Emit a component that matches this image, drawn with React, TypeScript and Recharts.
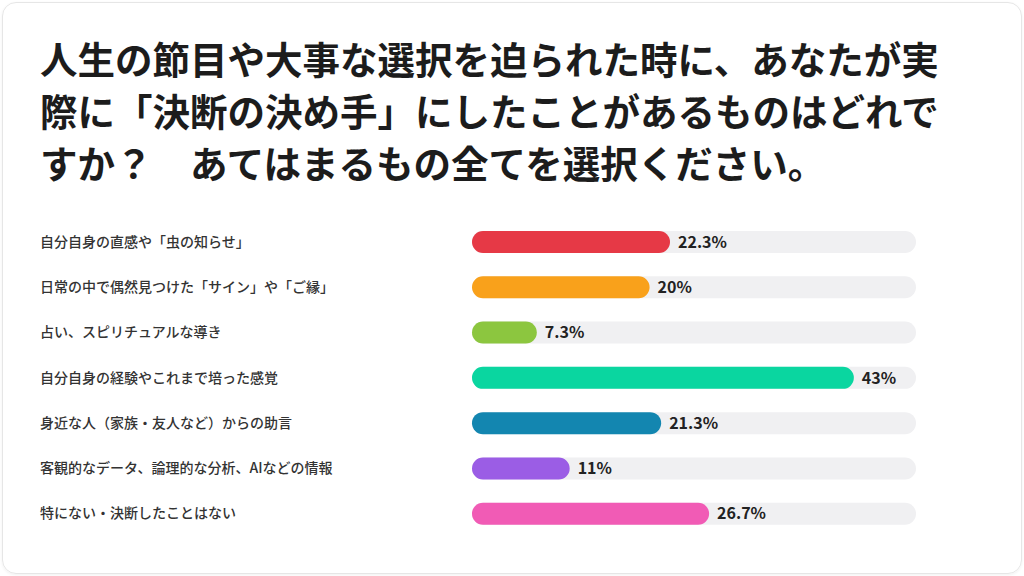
import React from 'react';
import { BarChart, Bar, XAxis, YAxis, Cell, LabelList } from 'recharts';

const titleLines = [
  '人生の節目や大事な選択を迫られた時に、あなたが実',
  '際に「決断の決め手」にしたことがあるものはどれで',
  'すか？　あてはまるもの全てを選択ください。',
];

const categories = [
  '自分自身の直感や「虫の知らせ」',
  '日常の中で偶然見つけた「サイン」や「ご縁」',
  '占い、スピリチュアルな導き',
  '自分自身の経験やこれまで培った感覚',
  '身近な人（家族・友人など）からの助言',
  '客観的なデータ、論理的な分析、AIなどの情報',
  '特にない・決断したことはない',
];

const values = [22.3, 20, 7.3, 43, 21.3, 11, 26.7];

const colors = ['#e63946', '#f9a11b', '#8cc63f', '#0ad6a0', '#1386b0', '#9b5de5', '#f15bb5'];

const data = categories.map((name, i) => ({ name, value: values[i] }));

const FONT = '"Noto Sans CJK JP", "Noto Sans", sans-serif';

const CategoryTick = ({ y, payload }: any) => (
  <text x={40} y={y} dy={5} textAnchor="start" fontSize={14} fontWeight={500} fill="#333" fontFamily={FONT}>
    {payload.value}
  </text>
);

export default function App() {
  return (
    <div
      style={{
        position: 'fixed',
        left: 0,
        top: 0,
        width: 1024,
        height: 576,
        background: '#fff',
        fontFamily: FONT,
      }}
    >
      <div
        style={{
          position: 'absolute',
          left: 2,
          top: 2,
          width: 1018,
          height: 570,
          border: '1px solid #e6e6e6',
          borderRadius: 14,
          boxShadow: '0 1px 3px rgba(0,0,0,0.06)',
        }}
      />
      <div
        style={{
          position: 'absolute',
          left: 40,
          top: 32,
          fontSize: 37.5,
          lineHeight: '52px',
          fontWeight: 700,
          color: '#1c1c1c',
          whiteSpace: 'pre',
        }}
      >
        {titleLines.map((l, i) => (
          <div key={i}>{l}</div>
        ))}
      </div>
      <div style={{ position: 'absolute', left: 0, top: 0 }}>
        <BarChart
          width={1024}
          height={576}
          data={data}
          layout="vertical"
          margin={{ top: 219, right: 108, bottom: 40, left: 0 }}
          barSize={22}
        >
          <XAxis type="number" domain={[0, 50]} hide />
          <YAxis
            type="category"
            dataKey="name"
            width={472}
            axisLine={false}
            tickLine={false}
            tick={<CategoryTick />}
            interval={0}
          />
          <Bar
            dataKey="value"
            radius={11}
            background={{ fill: '#f0f0f2', radius: 11 }}
            isAnimationActive={false}
          >
            {data.map((d, i) => (
              <Cell key={d.name} fill={colors[i]} />
            ))}
            <LabelList
              dataKey="value"
              position="right"
              offset={8}
              formatter={(v: any) => `${v}%`}
              style={{ fontSize: 16, fontWeight: 700, fill: '#222', fontFamily: FONT }}
            />
          </Bar>
        </BarChart>
      </div>
    </div>
  );
}
